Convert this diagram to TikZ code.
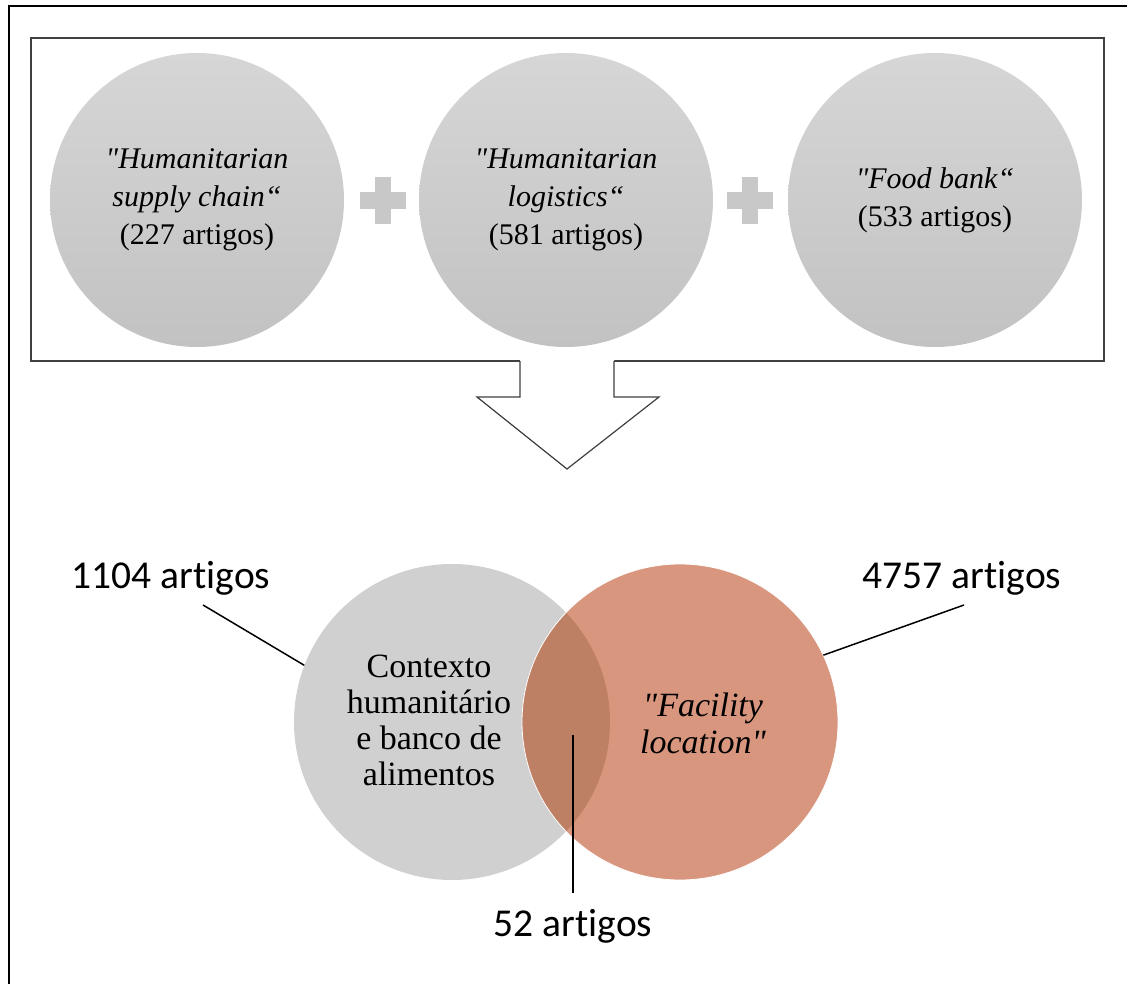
\documentclass[tikz,border=0pt]{standalone}
\usepackage{fontspec}
\setmainfont{Liberation Serif}
\newfontfamily\labelfont[Ligatures=NoCommon]{Carlito}
\usepackage{tikz}
\usetikzlibrary{positioning, calc}
\definecolor{circtop}{HTML}{D6D6D6}
\definecolor{circbot}{HTML}{C2C2C2}
\definecolor{plusgray}{HTML}{C8C8C8}
\definecolor{boxline}{HTML}{404040}
\definecolor{venngray}{HTML}{D0D0D0}
\definecolor{vennsalmon}{HTML}{D8967E}
\definecolor{vennoverlap}{HTML}{BE8065}

\tikzset{
  searchcirc/.style={circle, minimum size=294pt, inner sep=0pt, top color=circtop, bottom color=circbot, draw=none, align=center, font=\fontsize{30}{38}\selectfont},
  venncirc/.style={circle, minimum size=316pt, inner sep=0pt, draw=none},
  countlabel/.style={font=\labelfont\fontsize{39.5}{46}\selectfont, inner sep=0pt},
  leader/.style={draw=black, line width=1.5pt}
}

\begin{document}
\begin{tikzpicture}[x=1pt,y=-1pt]
\useasboundingbox (0,0) rectangle (1127,984);
% outer frame
\draw[line width=2.5pt] (9,984) -- (9,6);
\draw[line width=1.5pt] (8,6) -- (1127,6);

% search terms box
\draw[boxline, line width=1.2pt] (31,38) rectangle (1104,361);
\node[searchcirc] (hsc) at (197,200) {\textit{\textquotedbl Humanitarian}\\\textit{supply chain“}\\(227 artigos)};
\node[searchcirc] (hlog) at (566,200) {\textit{\textquotedbl Humanitarian}\\\textit{logistics“}\\(581 artigos)};
\node[searchcirc] (fbank) at (935,200) {\textit{\textquotedbl Food bank“}\\(533 artigos)};

% plus signs
\foreach \px in {383,750} {
  \fill[plusgray] (\px-23,192) rectangle (\px+23,209);
  \fill[plusgray] (\px-8,177) rectangle (\px+8,224);
}

% down arrow
\fill[white] (520,358) -- (520,397) -- (477,397) -- (567,469) -- (659,397) -- (614,397) -- (614,358) -- cycle;
\draw[boxline, line width=1.2pt] (520,361) -- (520,397) -- (477,397) -- (567,469) -- (659,397) -- (614,397) -- (614,361);

% venn diagram
\node[venncirc, fill=venngray] (ctx) at (452,722) {};
\node[venncirc, fill=vennsalmon] (fac) at (680,722) {};
\begin{scope}
  \clip (ctx.center) circle (158pt);
  \fill[vennoverlap] (fac.center) circle (158pt);
\end{scope}
\draw[white, line width=0.8pt] (fac.center) circle (158pt);

\node[align=center, font=\fontsize{34}{36}\selectfont] (ctxtext) at (429,720) {Contexto\\humanitário\\e banco de\\alimentos};
\node[align=center, font=\fontsize{34}{37}\selectfont] (factext) at (703,723) {\textit{\textquotedbl Facility}\\\textit{location\textquotedbl}};

% counts
\node[countlabel] (l1104) at (171,578) {1104 artigos};
\node[countlabel] (l4757) at (962,578) {4757 artigos};
\node[countlabel] (l52) at (573,926) {52 artigos};

\coordinate (l1104end) at (203,605);
\coordinate (l4757end) at (964,605);
\coordinate (ovlpt) at (573,735);
\coordinate (l52end) at (573,893);
\draw[leader] (l1104end) -- (ctx.159);
\draw[leader] (l4757end) -- (fac.25);
\draw[leader] (ovlpt) -- (l52end);
\end{tikzpicture}
\end{document}
